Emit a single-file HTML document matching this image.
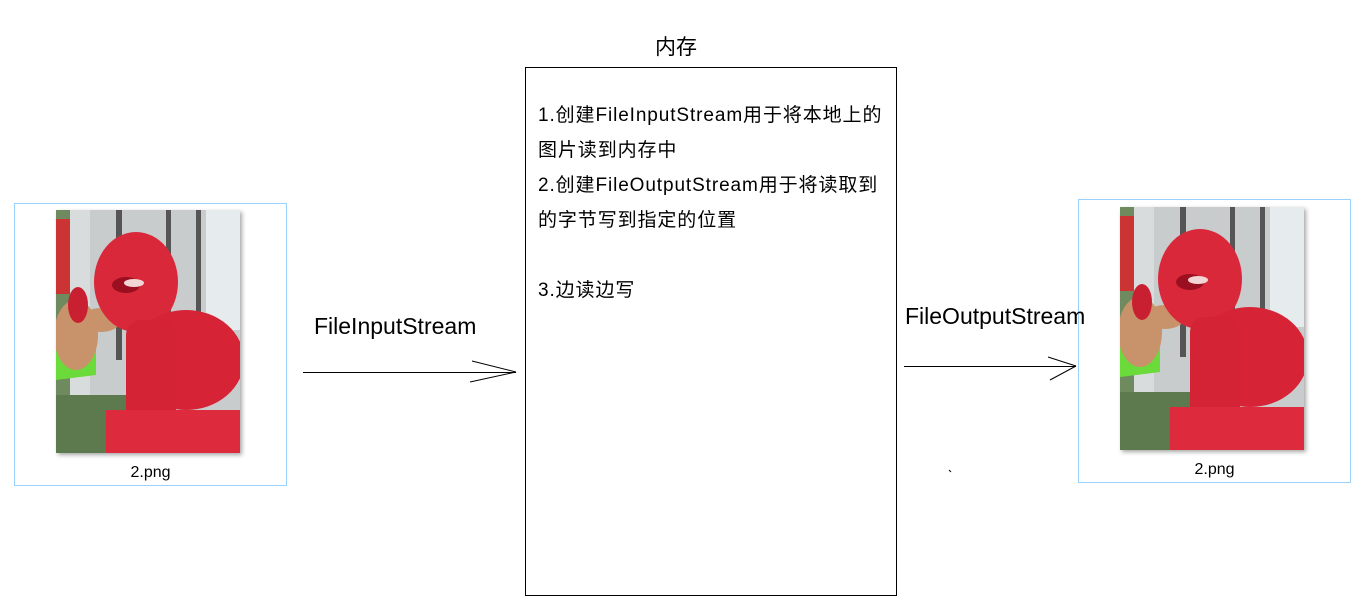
<!DOCTYPE html>
<html><head><meta charset="utf-8"><style>
html,body{margin:0;padding:0;background:#fff;width:1364px;height:601px;overflow:hidden;position:relative;font-family:"Liberation Sans","Noto Sans CJK SC",sans-serif;color:#000}
.abs{position:absolute}
.fbox{position:absolute;border:1px solid #99d1ff;box-sizing:border-box}
.cap{position:absolute;font-size:16px;width:100%;text-align:center}
.mem{position:absolute;left:525px;top:67px;width:372px;height:529px;border:1px solid #000;box-sizing:border-box}
.t{position:absolute;left:538px;font-size:19px;letter-spacing:0.9px;white-space:nowrap;line-height:24px}
</style></head><body>
<svg width="0" height="0" style="position:absolute">
<defs>
<symbol id="photo" viewBox="0 0 184 243">
<rect width="184" height="243" fill="#c9cccd"/>
<rect x="0" y="0" width="14" height="243" fill="#6f8a5e"/>
<rect x="14" y="0" width="20" height="243" fill="#d9dcdc"/>
<rect x="60" y="0" width="6" height="150" fill="#555"/>
<rect x="110" y="0" width="5" height="150" fill="#555"/>
<rect x="140" y="0" width="5" height="150" fill="#555"/>
<rect x="150" y="0" width="34" height="120" fill="#e6ecee"/>
<rect x="0" y="9" width="14" height="75" fill="#c33"/>
<rect x="0" y="185" width="110" height="58" fill="#5d7a4e"/>
<polygon points="0,135 40,135 40,165 0,170" fill="#6adb3a"/>
<ellipse cx="20" cy="125" rx="22" ry="35" fill="#c8936a"/>
<ellipse cx="45" cy="110" rx="20" ry="12" fill="#c8936a"/>
<ellipse cx="80" cy="72" rx="42" ry="50" fill="#d9283a"/>
<ellipse cx="22" cy="95" rx="10" ry="18" fill="#c82030"/>
<ellipse cx="130" cy="150" rx="58" ry="50" fill="#d62436"/>
<rect x="70" y="110" width="50" height="110" fill="#d42335" rx="15"/>
<rect x="50" y="200" width="134" height="43" fill="#dd2a3c"/>
<ellipse cx="70" cy="75" rx="14" ry="8" fill="#9a1020"/>
<ellipse cx="78" cy="73" rx="10" ry="4" fill="#f2d6d6"/>
</symbol>
</defs>
</svg>

<div class="fbox" style="left:14px;top:203px;width:273px;height:283px">
  <svg class="abs" style="left:41px;top:6px;filter:drop-shadow(2px 2px 2px rgba(0,0,0,.35))" width="184" height="243"><use href="#photo"/></svg>
  <div class="cap" style="top:260px">2.png</div>
</div>

<div class="fbox" style="left:1078px;top:199px;width:273px;height:284px">
  <svg class="abs" style="left:41px;top:7px;filter:drop-shadow(2px 2px 2px rgba(0,0,0,.35))" width="184" height="243"><use href="#photo"/></svg>
  <div class="cap" style="top:261px">2.png</div>
</div>

<div class="abs" style="left:655px;top:31px;font-size:21px">内存</div>
<div class="mem"></div>
<div class="t" style="top:104px">1.创建FileInputStream用于将本地上的</div>
<div class="t" style="top:139px">图片读到内存中</div>
<div class="t" style="top:174px">2.创建FileOutputStream用于将读取到</div>
<div class="t" style="top:209px">的字节写到指定的位置</div>
<div class="t" style="top:279px">3.边读边写</div>

<div class="abs" style="left:314px;top:313px;font-size:23px">FileInputStream</div>
<div class="abs" style="left:905px;top:303px;font-size:23px">FileOutputStream</div>

<svg class="abs" style="left:0;top:0" width="1364" height="601">
<g stroke="#000" stroke-width="1" fill="none">
<line x1="303" y1="372.5" x2="516" y2="372.5"/>
<line x1="472" y1="361" x2="516" y2="372"/>
<line x1="470" y1="382" x2="516" y2="372"/>
<line x1="904" y1="366.5" x2="1076" y2="366.5"/>
<line x1="1048" y1="357" x2="1076" y2="366"/>
<line x1="1050" y1="380" x2="1076" y2="366"/>
<line x1="949" y1="470" x2="951" y2="472"/>
</g>
</svg>
</body></html>
